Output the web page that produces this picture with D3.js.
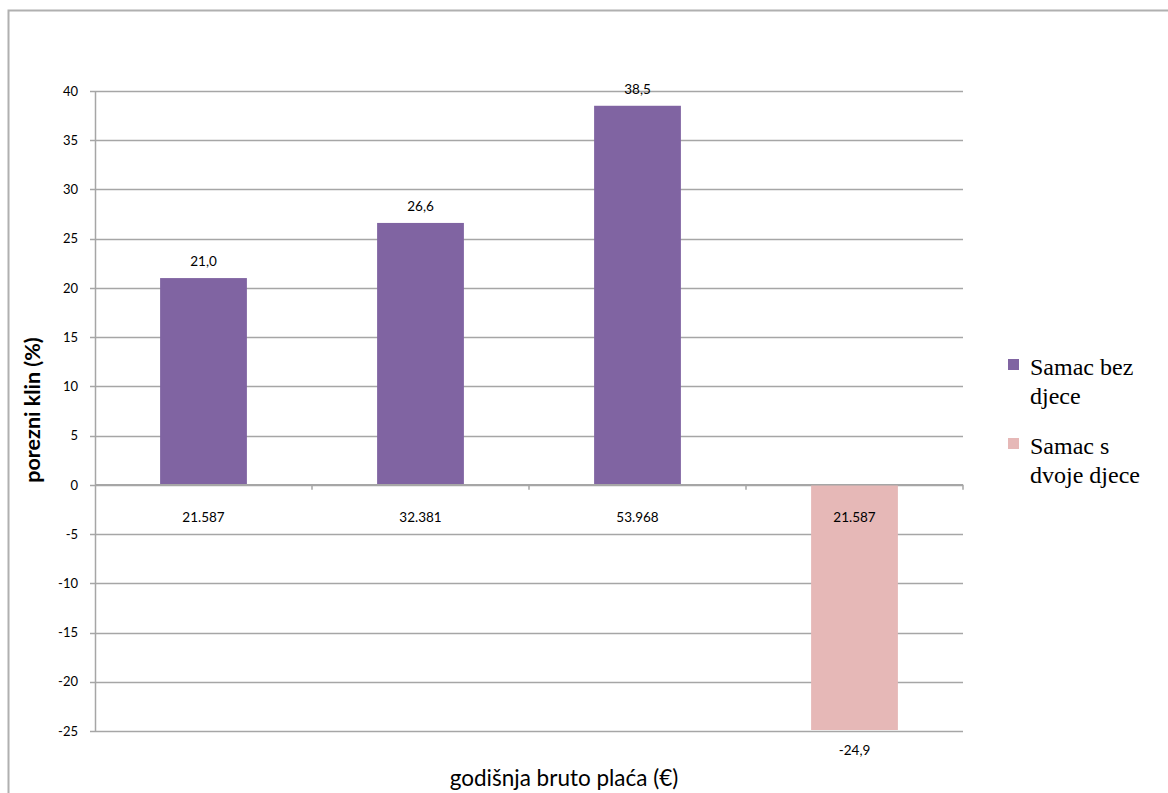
<!DOCTYPE html>
<html>
<head>
<meta charset="utf-8">
<script src="https://cdn.jsdelivr.net/npm/d3@7"></script>
<style>
body { margin: 0; background: #fff; }
text { fill: #000; }
</style>
</head>
<body>
<div id="chart"></div>
<script>
const w = 1168;
const h = 793;

// data
const categories = ['21.587', '32.381', '53.968', '21.587 '];
const seriesNames = ['Samac bez djece', 'Samac s dvoje djece'];
const seriesOf = [0, 0, 0, 1];
const values = [21.0, 26.6, 38.5, -24.9];
const yTicks = [40, 35, 30, 25, 20, 15, 10, 5, 0, -5, -10, -15, -20, -25];
const colors = ['#8064A2', '#E6B8B7'];

const padL = 95, padR = 963, padT = 91, padB = 731;
const sans = 'Lato, "Open Sans", sans-serif';
const serif = '"Liberation Serif", "DejaVu Serif", serif';

const svg = d3.select('#chart').append('svg')
  .attr('width', w).attr('height', h);

// outer frame
svg.append('rect')
  .attr('x', 8.5).attr('y', 10.5)
  .attr('width', w).attr('height', h)
  .attr('fill', 'none').attr('stroke', '#b0b0b0').attr('stroke-width', 2);

const x = d3.scaleBand().domain(categories).range([padL, padR]).paddingInner(0.6).paddingOuter(0.3);
const xOuter = d3.scaleBand().domain(categories).range([padL, padR]);
const y = d3.scaleLinear().domain([-25, 40]).range([padB, padT]);

// gridlines
svg.append('g').selectAll('line')
  .data(yTicks)
  .enter().append('line')
  .attr('x1', padL - 5).attr('x2', padR)
  .attr('y1', d => Math.round(y(d)) + 0.5).attr('y2', d => Math.round(y(d)) + 0.5)
  .attr('stroke', '#a6a6a6').attr('stroke-width', 1.5);

// y axis
const yAxis = d3.axisLeft(y).tickValues(yTicks).tickSize(0).tickPadding(17)
  .tickFormat(d => String(d));
svg.append('g')
  .attr('transform', `translate(${padL},0)`)
  .call(yAxis)
  .call(g => g.select('.domain').attr('stroke', '#a6a6a6').attr('stroke-width', 1.5))
  .selectAll('text').style('font-size', '13px').style('font-family', sans);

// bars
svg.append('g').selectAll('rect')
  .data(values)
  .enter().append('rect')
  .attr('x', (d, i) => x(categories[i]))
  .attr('width', x.bandwidth())
  .attr('y', d => y(Math.max(0, d)))
  .attr('height', d => Math.abs(y(d) - y(0)))
  .attr('fill', (d, i) => colors[seriesOf[i]]);

// x axis at zero
svg.append('line')
  .attr('x1', padL).attr('x2', padR)
  .attr('y1', y(0)).attr('y2', y(0))
  .attr('stroke', '#a6a6a6').attr('stroke-width', 1.5);
svg.append('g').selectAll('line')
  .data(categories)
  .enter().append('line')
  .attr('x1', d => xOuter(d) + xOuter.bandwidth()).attr('x2', d => xOuter(d) + xOuter.bandwidth())
  .attr('y1', y(0)).attr('y2', y(0) + 5)
  .attr('stroke', '#a6a6a6').attr('stroke-width', 1.5);

// category labels
svg.append('g').selectAll('text')
  .data(categories)
  .enter().append('text')
  .attr('x', d => x(d) + x.bandwidth() / 2)
  .attr('y', y(0) + 37)
  .attr('text-anchor', 'middle')
  .style('font-family', sans).style('font-size', '13.5px')
  .text(d => d.trim());

// value labels
svg.append('g').selectAll('text')
  .data(values)
  .enter().append('text')
  .attr('x', (d, i) => x(categories[i]) + x.bandwidth() / 2)
  .attr('y', d => d >= 0 ? y(d) - 12 : y(d) + 25)
  .attr('text-anchor', 'middle')
  .style('font-family', sans).style('font-size', '13.5px')
  .text(d => d.toFixed(1).replace('.', ','));

// axis titles
svg.append('text')
  .attr('x', 564).attr('y', 786)
  .attr('text-anchor', 'middle')
  .style('font-family', sans).style('font-size', '22.5px')
  .text('godišnja bruto plaća (€)');
svg.append('text')
  .attr('transform', 'translate(40,410) rotate(-90)')
  .attr('text-anchor', 'middle')
  .style('font-family', sans).style('font-size', '21.5px').style('font-weight', 'bold')
  .text('porezni klin (%)');

// legend
const legend = svg.append('g');
const legendRows = [['Samac bez', 'djece'], ['Samac s', 'dvoje djece']];
legendRows.forEach((lines, i) => {
  const ly = 368 + i * 79;
  legend.append('rect')
    .attr('x', 1008).attr('y', ly - 9)
    .attr('width', 11).attr('height', 11)
    .attr('fill', colors[i]);
  lines.forEach((t, j) => {
    legend.append('text')
      .attr('x', 1030).attr('y', ly + 7 + j * 29)
      .style('font-family', serif).style('font-size', '24px')
      .text(t);
  });
});
</script>
</body>
</html>
